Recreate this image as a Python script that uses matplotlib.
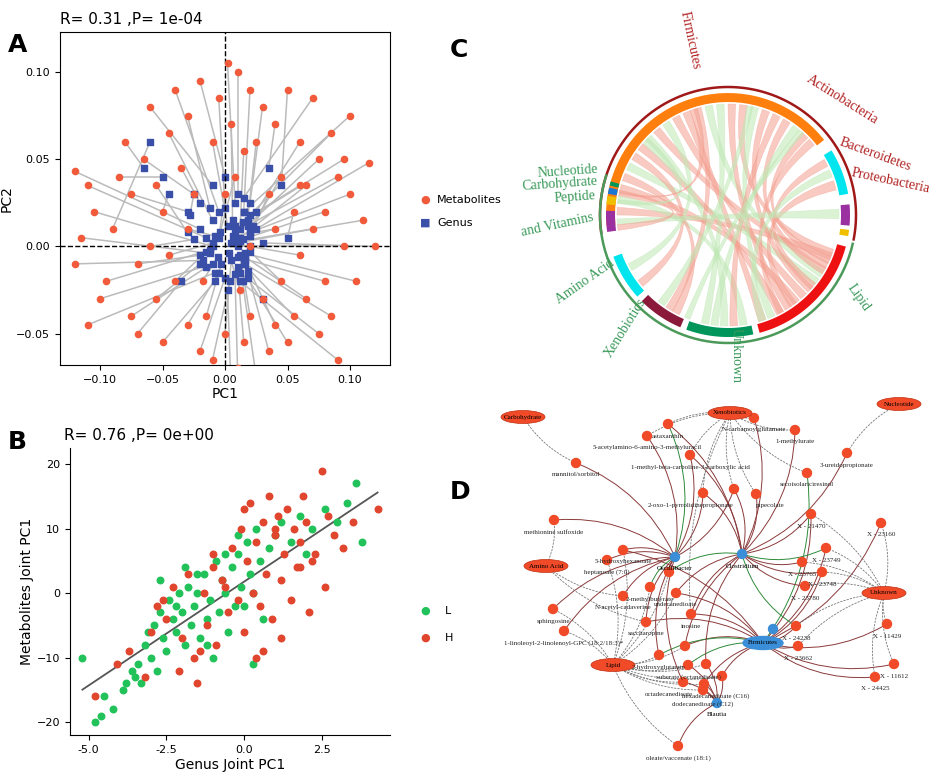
import numpy as np
import matplotlib
matplotlib.use("Agg")
import matplotlib.pyplot as plt
from matplotlib.path import Path
from matplotlib.patches import PathPatch, Ellipse, FancyArrowPatch

W, H = 940, 772

# ---------- panel A data ----------
met_xy = [(-0.12,0.043),(-0.11,0.035),(-0.105,0.02),(-0.115,0.005),(-0.12,-0.01),(-0.10,-0.03),(-0.11,-0.045),(-0.095,-0.02),(-0.09,0.01),(-0.085,0.04),
    (-0.08,0.06),(-0.075,0.03),(-0.07,-0.01),(-0.075,-0.04),(-0.07,-0.05),(-0.065,0.05),(-0.06,0.08),(-0.055,-0.03),(-0.05,0.02),(-0.05,-0.055),
    (-0.045,0.065),(-0.04,0.09),(-0.04,-0.02),(-0.035,0.045),(-0.03,-0.045),(-0.03,0.075),(-0.025,0.03),(-0.02,-0.06),(-0.02,0.095),(-0.015,-0.04),
    (-0.01,0.06),(-0.01,-0.065),(-0.005,0.085),(0.0,-0.05),(0.002,0.105),(0.005,0.07),(0.005,-0.085),(0.008,0.04),(0.01,0.1),(0.01,-0.07),
    (0.015,0.055),(0.015,-0.055),(0.02,0.09),(0.02,-0.04),(0.025,0.06),(0.025,-0.075),(0.03,0.08),(0.03,-0.03),(0.035,0.03),(0.035,-0.06),
    (0.04,0.07),(0.04,-0.045),(0.045,0.04),(0.045,-0.02),(0.05,0.09),(0.05,-0.055),(0.055,0.02),(0.055,-0.04),(0.06,0.06),(0.06,-0.005),
    (0.065,0.035),(0.065,-0.03),(0.07,0.085),(0.07,0.01),(0.075,-0.05),(0.075,0.05),(0.08,0.02),(0.08,-0.02),(0.085,0.065),(0.085,-0.04),
    (0.09,0.04),(0.09,-0.065),(0.095,0.0),(0.095,0.05),(0.1,0.03),(0.105,-0.02),(0.11,0.015),(0.115,0.048),(0.12,0.0),(0.1,0.075),
    (-0.06,0.0),(-0.045,-0.005),(0.0,0.03),(0.02,0.0),(0.04,0.01),(-0.03,0.01),(0.012,-0.025),(-0.018,-0.02),(0.06,0.035),(-0.055,0.035)]
gen_xy = [(-0.02,0.01),(-0.015,0.005),(-0.01,0.0),(-0.012,-0.004),(-0.018,-0.008),(-0.01,-0.01),(-0.008,-0.015),(-0.012,-0.002),(-0.06,0.06),(-0.05,0.04),
    (-0.065,0.045),(-0.03,0.02),(-0.02,-0.005),(-0.015,-0.012),(-0.035,-0.02),(-0.025,0.03),(-0.01,0.035),(-0.02,-0.01),(-0.045,0.03),(-0.008,-0.02),
    (-0.01,0.015),(-0.005,0.02),(-0.015,-0.003),(-0.02,0.025),(-0.005,-0.015),(-0.012,0.022),(-0.028,0.018),(0.0,-0.018),(0.0,0.04),(-0.003,-0.01),
    (0.002,0.012),(0.004,-0.02),(0.0,0.022),(0.005,-0.008),(0.008,0.025),(0.006,0.015),(0.002,-0.025),(-0.004,0.008),(0.01,0.03),(0.008,-0.016),
    (0.012,0.01),(0.01,-0.012),(0.015,0.02),(0.012,-0.005),(0.018,0.015),(0.014,-0.02),(0.02,0.025),(0.03,-0.03),(0.02,0.006),(0.018,-0.014),
    (0.035,0.045),(0.016,-0.008),(0.022,0.012),(0.02,-0.003),(0.045,0.035),(0.018,-0.018),(0.05,0.005),(0.015,-0.01),(0.025,0.02),(0.02,0.0),
    (0.012,0.005),(0.016,-0.006),(0.015,0.028),(0.01,0.002),(0.012,-0.015),(0.018,0.012),(0.014,0.004),(0.01,-0.006),(0.02,0.018),(0.016,-0.01),
    (0.008,0.008),(0.012,-0.02),(0.01,0.0),(0.014,0.014),(0.02,0.008),(0.016,-0.004),(0.012,0.003),(0.025,0.01),(0.03,0.002),(0.015,0.02),
    (-0.025,0.004),(-0.01,0.002),(-0.005,0.005),(0.005,0.002),(0.006,0.006),(-0.008,0.006),(0.003,-0.004),(-0.006,-0.006),(0.008,0.012),(-0.03,0.008)]

# ---------- panel B data ----------
L_x = [-5.2,-4.8,-4.6,-4.5,-4.2,-3.9,-3.8,-3.6,-3.5,-3.4,-3.3,-3.2,-3.1,-3.0,-2.9,-2.8,-2.7,-2.6,-2.5,-2.4,-2.3,-2.2,-2.1,-2.0,-1.9,-1.8,-1.7,-1.6,-1.5,-1.4,-1.3,-1.2,-1.1,-1.0,-0.9,-0.8,-0.7,-0.6,-0.5,-0.4,-0.3,-0.2,-0.1,0.0,0.1,0.2,0.3,0.4,0.5,0.6,0.8,1.0,1.2,1.5,1.8,2.0,2.2,2.6,3.0,3.3,3.6,3.8,-2.7,-1.9,-1.2,-0.6,0.3,-2.2,-1.5,-0.2]
L_y = [-10,-20,-19,-16,-18,-15,-14,-12,-13,-11,-14,-8,-6,-10,-5,-12,-3,-7,-9,-1,-4,-6,0,-3,-8,1,-5,-2,0,-7,3,-4,-1,-10,5,-3,2,0,-6,4,-2,6,1,-2,8,3,0,10,5,-4,7,9,11,8,12,6,10,13,11,14,17,8,2,4,-8,6,-11,-2,3,9]
H_x = [-4.8,-4.1,-3.7,-3.2,-3.0,-2.8,-2.5,-2.3,-2.1,-2.0,-1.8,-1.6,-1.5,-1.3,-1.2,-1.0,-0.9,-0.7,-0.5,-0.4,-0.2,-0.1,0.0,0.1,0.2,0.3,0.4,0.5,0.6,0.7,0.8,0.9,1.0,1.1,1.2,1.3,1.4,1.5,1.6,1.7,1.8,1.9,2.0,2.1,2.3,2.5,2.7,2.9,3.2,3.5,4.3,-1.4,-0.6,0.0,0.6,1.2,1.8,-2.6,-1.0,0.4,1.0,2.2,2.6]
H_y = [-16,-11,-9,-13,-6,-2,-4,1,-12,-7,3,-10,-14,0,-5,4,-8,2,-3,7,-1,10,-6,5,14,0,8,-2,11,3,15,-4,9,12,2,6,13,-1,10,4,8,15,11,-3,6,19,12,9,7,11,13,-9,1,13,-9,-7,4,-1,6,-10,10,5,1]

# ---------- panel C data (angles in degrees clockwise from top) ----------
seg_names = ["Firmicutes", "Actinobacteria", "Bacteroidetes", "Proteobacteria",
             "Lipid", "Unknown", "Xenobiotics", "Amino Acid", "and Vitamins", "Peptide", "Carbohydrate", "Nucleotide"]
seg_start = [-95, 58, 85, 97, 105, 168, 203, 228, 262, 275, 280, 284]
seg_end = [52, 80, 95, 100, 165, 200, 225, 250, 272, 279, 283, 286]
seg_color = ["#ff7f0e", "#00e5ee", "#9b30a0", "#f0c000", "#ee1111", "#00955a", "#8b1a3a", "#00e5ee",
             "#9b30a0", "#f0c000", "#1f77d4", "#00955a"]
link_s0 = [-90,-84,-78,-72,-66,-60,-54,-48,-42,-36,-30,-24,-18,-12,-6,0,6,12,18,24,30,36,42,47,60,66,72,87,-80,-50,-20,10,40]
link_s1 = [-86,-80,-74,-68,-62,-56,-50,-44,-38,-32,-26,-20,-14,-8,-2,4,10,16,22,28,34,40,46,51,64,70,77,92,-77,-46,-16,13,43]
link_t0 = [110,170,140,206,125,230,150,180,115,240,135,160,210,120,190,145,108,155,130,175,118,185,112,150,128,160,142,265,262,276,281,215,200]
link_t1 = [114,174,144,210,129,234,154,184,119,244,139,164,214,124,194,149,112,159,134,179,122,189,116,153,132,164,146,268,265,278,282,219,203]
link_pink = [1,0,1,1,0,1,1,0,1,0,1,1,1,0,0,1,1,0,1,1,1,0,1,1,1,0,1,0,1,0,1,0,0]

# ---------- panel D data (local pixel coords) ----------
cat_names = ["Carbohydrate", "Xenobiotics", "Nucleotide", "Amino Acid", "Unknown", "Lipid"]
cat_x = [33, 240, 409, 56, 394, 123]
cat_y = [27, 23, 14, 176, 203, 275]
gen_names = ["Oscillibacter", "Clostridium", "", "Firmicutes", "Blautia"]
gen_x = [185, 252, 283, 273, 227]
gen_y = [167, 164, 239, 253, 313]
met_names = ["astaxanthin", "5-acetylamino-6-amino-3-methyluracil", "N-carbamoylglutamate", "1-methylurate",
             "1-methyl-beta-carboline-3-carboxylic acid", "3-ureidopropionate", "mannitol/sorbitol", "secoisolariciresinol",
             "2-oxo-1-pyrrolidinepropionate", "", "pipecolate", "X - 21470", "X - 23160", "methionine sulfoxide",
             "X - 23749", "X - 23765", "X - 23748", "X - 23780", "5-hydroxyhexanoate", "heptanoate (7:0)", "",
             "2-methylbutyrate", "undecanedioate", "N-acetyl-cadaverine", "sphingosine", "inosine", "saccharopine",
             "1-linoleoyl-2-linolenoyl-GPC (18:2/18:3)*", "X - 24238", "X - 23662", "X - 11429", "X - 11612", "X - 24425",
             "", "2-hydroxyglutarate", "suberate (octanedioate)", "", "", "octadecanedioate", "hexadecanedioate (C16)",
             "dodecanedioate (C12)", "oleate/vaccenate (18:1)"]
met_x = [178,157,264,305,200,357,86,317,213,244,266,321,391,64,336,312,332,315,133,117,179,160,186,133,63,201,156,74,
         306,308,397,404,385,195,169,198,216,232,193,214,213,188]
met_y = [34,46,28,40,65,63,73,83,103,99,104,124,133,130,158,172,182,196,160,170,182,197,203,206,219,224,232,241,
         236,256,234,274,287,256,265,275,274,286,292,294,300,356]
met_cat = [1,1,1,1,1,2,0,1,1,1,1,4,4,3,4,4,4,4,5,5,5,5,5,3,5,1,3,5,4,4,4,4,4,5,5,5,5,5,5,5,5,5]
met_gen = ["01","0","1","1","01","1","0","3","01","01","1","13","3","0","13","1","13","1","03","0","01","0","13","0","0","13",
           "03","0","13","3","3","3","3","13","03","34","14","34","04","34","4","4"]

fig = plt.figure(figsize=(W / 100, H / 100), dpi=100)


def rect(x0, y0, x1, y1):
    return [x0 / W, 1 - y1 / H, (x1 - x0) / W, (y1 - y0) / H]


RED = "#f15a3a"
BLUE = "#3a4fa8"

# ---- A ----
ax = fig.add_axes(rect(60, 32, 390, 365))
for (gx, gy), (mx, my) in zip(gen_xy, met_xy):
    ax.plot([gx, mx], [gy, my], color="#bbbbbb", lw=1.1, zorder=1)
ax.scatter([m[0] for m in met_xy], [m[1] for m in met_xy], s=20, color=RED, zorder=3)
ax.scatter([g[0] for g in gen_xy], [g[1] for g in gen_xy], s=20, marker="s", color=BLUE, zorder=2)
ax.axhline(0, color="black", ls="--", lw=1)
ax.axvline(0, color="black", ls="--", lw=1)
ax.set_xlim(-0.132, 0.132)
ax.set_ylim(-0.068, 0.123)
ax.set_xticks([-0.10, -0.05, 0.0, 0.05, 0.10])
ax.set_yticks([-0.05, 0.0, 0.05, 0.10])
ax.tick_params(labelsize=8)
ax.set_xlabel("PC1", fontsize=10, labelpad=2)
ax.set_ylabel("PC2", fontsize=10, labelpad=2)
ax.set_title("R= 0.31 ,P= 1e-04", loc="left", fontsize=11, pad=6)
fig.text(420 / W, 1 - 200 / H, "●", color=RED, fontsize=8, va="center")
fig.text(437 / W, 1 - 200 / H, "Metabolites", fontsize=8, va="center")
fig.text(420 / W, 1 - 223 / H, "■", color=BLUE, fontsize=8, va="center")
fig.text(437 / W, 1 - 223 / H, "Genus", fontsize=8, va="center")

# ---- B ----
ax = fig.add_axes(rect(70, 448, 390, 735))
ax.scatter(L_x, L_y, s=22, color="#22c25a", zorder=3)
ax.scatter(H_x, H_y, s=22, color="#e0452e", zorder=3)
allx = np.array(L_x + H_x)
ally = np.array(L_y + H_y)
k, b = np.polyfit(allx, ally, 1)
xs = np.array([allx.min(), allx.max()])
ax.plot(xs, k * xs + b, color="#555555", lw=1.3, zorder=2)
ax.set_xlim(-5.6, 4.7)
ax.set_ylim(-22, 22.5)
ax.set_xticks([-5.0, -2.5, 0.0, 2.5])
ax.set_yticks([-20, -10, 0, 10, 20])
ax.set_xticklabels(["-5.0", "-2.5", "0.0", "2.5"])
for s in ["top", "right"]:
    ax.spines[s].set_visible(False)
ax.tick_params(labelsize=8)
ax.set_xlabel("Genus Joint PC1", fontsize=10, labelpad=2)
ax.set_ylabel("Metabolites Joint PC1", fontsize=10, labelpad=2)
ax.set_title("R= 0.76 ,P= 0e+00", loc="left", fontsize=11, pad=6, x=-0.02)
fig.text(420 / W, 1 - 611 / H, "●", color="#22c25a", fontsize=8, va="center")
fig.text(445 / W, 1 - 611 / H, "L", fontsize=8, va="center")
fig.text(420 / W, 1 - 638 / H, "●", color="#e0452e", fontsize=8, va="center")
fig.text(445 / W, 1 - 638 / H, "H", fontsize=8, va="center")

# ---- C ----
ax = fig.add_axes(rect(540, 0, 940, 390))
ax.set_xlim(540, 940)
ax.set_ylim(390, 0)
ax.axis("off")
cx, cy = 728, 215


def pt(a, r):
    t = np.radians(a)
    return cx + r * np.sin(t), cy - r * np.cos(t)


def arc_pts(a0, a1, r, n=20):
    return [pt(a, r) for a in np.linspace(a0, a1, n)]


for a0, a1, c in zip(seg_start, seg_end, seg_color):
    p = arc_pts(a0, a1, 122, 40) + arc_pts(a1, a0, 113, 40)
    ax.add_patch(plt.Polygon(p, closed=True, color=c, lw=0))
for a0, a1, c in [(-98, 101, "#a01818"), (103, 288, "#4c9a5a")]:
    xy = arc_pts(a0, a1, 128, 200)
    ax.plot([q[0] for q in xy], [q[1] for q in xy], color=c, lw=1.8)
R = 111
for s0, s1, t0, t1, pk in zip(link_s0, link_s1, link_t0, link_t1, link_pink):
    verts = arc_pts(s0, s1, R, 8)
    codes = [Path.MOVETO] + [Path.LINETO] * 7
    verts += [(cx, cy), pt(t0, R)]
    codes += [Path.CURVE3, Path.CURVE3]
    verts += arc_pts(t0, t1, R, 8)[1:]
    codes += [Path.LINETO] * 7
    verts += [(cx, cy), pt(s0, R)]
    codes += [Path.CURVE3, Path.CURVE3]
    col = "#f4a090" if pk else "#bfe8b4"
    ax.add_patch(PathPatch(Path(verts, codes), facecolor=col, edgecolor=col, alpha=0.55, lw=0.4))

cfont = dict(family="Liberation Serif", fontsize=10, ha="center", va="center")
ax.text(690, 40, "Firmicutes", rotation=-78, color="#b22222", **cfont)
ax.text(842, 100, "Actinobacteria", rotation=-32, color="#b22222", **cfont)
ax.text(875, 155, "Bacteroidetes", rotation=-20, color="#b22222", **cfont)
ax.text(890, 181, "Proteobacteria", rotation=-12, color="#b22222", clip_on=False, **cfont)
ax.text(858, 298, "Lipid", rotation=-55, color="#3a9a5a", **cfont)
ax.text(736, 355, "Unknown", rotation=-90, color="#3a9a5a", **cfont)
ax.text(625, 328, "Xenobiotics", rotation=58, color="#3a9a5a", **cfont)
ax.text(585, 282, "Amino Acid", rotation=35, color="#3a9a5a", **cfont)
ax.text(557, 225, "and Vitamins", rotation=12, color="#3a9a5a", **cfont)
ax.text(575, 197, "Peptide", rotation=4, color="#3a9a5a", **cfont)
ax.text(560, 184, "Carbohydrate", rotation=4, color="#3a9a5a", **cfont)
ax.text(568, 171, "Nucleotide", rotation=4, color="#3a9a5a", **cfont)

# ---- D ----
ax = fig.add_axes(rect(490, 390, 940, 772))
ax.set_xlim(0, 450)
ax.set_ylim(382, 0)
ax.axis("off")
label_shift = {8: (-12, 0), 10: (14, 0), 38: (-14, 0), 39: (12, 0), 40: (0, 2)}
for i in range(len(met_x)):
    c = met_cat[i]
    ax.add_patch(FancyArrowPatch((cat_x[c], cat_y[c]), (met_x[i], met_y[i]), arrowstyle="-",
                                 connectionstyle="arc3,rad=0.15", ls=(0, (2, 2)), color="#777777", lw=0.6, zorder=1))
    for j, g in enumerate(met_gen[i]):
        g = int(g)
        col = "#2e8b3a" if (i + j) % 7 == 0 else "#8b3a3a"
        ax.add_patch(FancyArrowPatch((gen_x[g], gen_y[g]), (met_x[i], met_y[i]), arrowstyle="-",
                                     connectionstyle="arc3,rad=0.2", color=col, lw=0.7, zorder=1))
for i in range(len(met_x)):
    dx, dy = label_shift.get(i, (0, 0))
    ax.add_patch(Ellipse((met_x[i], met_y[i]), 9, 9, color="#f04a28", zorder=3))
    ax.text(met_x[i] + dx, met_y[i] + 12 + dy, met_names[i], fontsize=5, family="Liberation Serif",
            ha="center", va="center", zorder=4, color="#222222")
for n, x, y in zip(cat_names, cat_x, cat_y):
    ax.add_patch(Ellipse((x, y), 44, 13, facecolor="#f04a28", edgecolor="#c03010", lw=0.5, zorder=3))
    ax.text(x, y, n, fontsize=5, family="Liberation Serif", ha="center", va="center", zorder=4)
for n, x, y in zip(gen_names, gen_x, gen_y):
    if n == "Firmicutes":
        ax.add_patch(Ellipse((x, y), 40, 13, color="#3a8fd8", zorder=3))
        ax.text(x, y, n, fontsize=5, family="Liberation Serif", ha="center", va="center", zorder=4)
    else:
        ax.add_patch(Ellipse((x, y), 9, 9, color="#3a8fd8", zorder=3))
        if n:
            ax.text(x, y + 12, n, fontsize=5, family="Liberation Serif", ha="center", va="center", zorder=4)

for lab, x, y in [("A", 8, 45), ("B", 8, 442), ("C", 450, 50), ("D", 450, 492)]:
    fig.text(x / W, 1 - y / H, lab, fontsize=18, fontweight="bold", va="center")

fig.savefig("out.png", dpi=100)
